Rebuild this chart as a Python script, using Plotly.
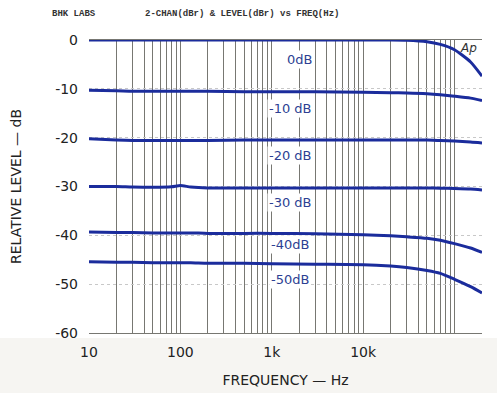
import math
import plotly.graph_objects as go

# Frequency points (Hz) and level traces (dB) for each input level
freq = [10, 20, 30, 50, 80, 100, 130, 200, 500, 1000, 3000, 10000, 20000,
        30000, 50000, 70000, 100000, 150000, 200000]

lvl_0 = [0.0, 0.0, 0.0, 0.0, 0.0, 0.0, 0.0, 0.0, 0.0, 0.0, 0.0, 0.0, 0.0,
         -0.05, -0.35, -0.9, -2.0, -4.5, -7.4]
lvl_10 = [-10.3, -10.4, -10.5, -10.5, -10.5, -10.5, -10.5, -10.5, -10.6, -10.6,
          -10.6, -10.7, -10.8, -10.85, -11.0, -11.2, -11.5, -11.9, -12.4]
lvl_20 = [-20.2, -20.5, -20.6, -20.6, -20.6, -20.6, -20.6, -20.6, -20.5, -20.5,
          -20.5, -20.5, -20.5, -20.5, -20.5, -20.6, -20.7, -20.9, -21.1]
lvl_30 = [-30.0, -30.0, -30.1, -30.15, -30.05, -29.8, -30.1, -30.3, -30.3, -30.3,
          -30.3, -30.3, -30.3, -30.3, -30.3, -30.35, -30.4, -30.5, -30.7]
lvl_40 = [-39.3, -39.4, -39.4, -39.5, -39.5, -39.5, -39.5, -39.6, -39.6, -39.6,
          -39.7, -39.9, -40.1, -40.3, -40.6, -41.0, -41.7, -42.6, -43.5]
lvl_50 = [-45.4, -45.5, -45.5, -45.6, -45.6, -45.6, -45.6, -45.7, -45.7, -45.8,
          -45.9, -46.0, -46.3, -46.6, -47.2, -47.8, -49.0, -50.5, -51.8]

series = [lvl_0, lvl_10, lvl_20, lvl_30, lvl_40, lvl_50]
curve_labels = ["0dB", "-10 dB", "-20 dB", "-30 dB", "-40dB", "-50dB"]
label_y = [-4.0, -14.0, -23.6, -33.2, -41.8, -49.0]
label_x = [2000, 1600, 1600, 1600, 1600, 1600]

x_tickvals = [10, 100, 1000, 10000, 200000]
x_ticktext = ["10", "100", "1k", "10k", "200k"]
y_tickvals = [0, -10, -20, -30, -40, -50, -60]
y_ticktext = ["0", "-10", "-20", "-30", "-40", "-50", "-60"]

LINE = "#1b2c9c"
GRID = "#777772"
INK = "#222222"

fig = go.Figure()
for vals in series:
    fig.add_trace(go.Scatter(x=freq, y=vals, mode="lines",
                             line=dict(color=LINE, width=3, shape="spline",
                                       smoothing=0.6),
                             showlegend=False, hoverinfo="skip"))

# Level labels sit on the log axis, so positions are given in log10 units
for txt, lx, ly in zip(curve_labels, label_x, label_y):
    fig.add_annotation(x=math.log10(lx), y=ly, xref="x", yref="y", text=txt,
                       showarrow=False, bgcolor="white",
                       font=dict(family="DejaVu Sans", size=13, color="#2d3f93"))

# Header lines
fig.add_annotation(x=-39 / 393, y=(333 - 14) / 293, xref="paper", yref="paper",
                   xanchor="left", yanchor="middle", showarrow=False,
                   text="<b>BHK LABS</b>",
                   font=dict(family="Liberation Mono", size=9, color="#333333"))
fig.add_annotation(x=54 / 393, y=(333 - 14) / 293, xref="paper", yref="paper",
                   xanchor="left", yanchor="middle", showarrow=False,
                   text="<b>2-CHAN(dBr) & LEVEL(dBr) vs FREQ(Hz)</b>",
                   font=dict(family="Liberation Mono", size=9, color="#333333"))
fig.add_annotation(x=math.log10(200000), y=-1.6, xref="x", yref="y",
                   xanchor="right", xshift=-3, showarrow=False, text="<i>Ap</i>",
                   font=dict(family="DejaVu Sans", size=12, color="#333333"))

# Lower strip of the page
fig.add_shape(type="rect", xref="paper", yref="paper",
              x0=-89 / 393, x1=408 / 393, y0=-60 / 293, y1=-5 / 293,
              fillcolor="#f6f5f2", line=dict(width=0), layer="below")

# Decade grid lines drawn explicitly so every decade is marked
for dec in [10, 100, 1000, 10000]:
    fig.add_shape(type="line", xref="x", yref="y",
                  x0=math.log10(dec), x1=math.log10(dec), y0=-60, y1=0,
                  line=dict(color=GRID, width=1), layer="between")

fig.update_layout(
    width=497, height=393,
    margin=dict(l=89, r=15, t=40, b=60),
    paper_bgcolor="white", plot_bgcolor="white",
    font=dict(family="DejaVu Sans", color=INK),
    xaxis=dict(type="log", range=[1, 5.30103], tickvals=x_tickvals,
               ticktext=x_ticktext, showgrid=True, gridcolor=GRID, gridwidth=1,
               minor=dict(dtick="D1", showgrid=True, gridcolor=GRID, gridwidth=1),
               ticks="", showline=True, linecolor=GRID, mirror=True,
               automargin=False,
               tickfont=dict(size=14), ticklabelstandoff=6,
               title=dict(text="FREQUENCY — Hz", font=dict(size=14), standoff=16)),
    yaxis=dict(range=[-60, 0], tickvals=y_tickvals, ticktext=y_ticktext,
               showgrid=True, gridcolor="#c8c8c8", griddash="dot", zeroline=False,
               ticks="", showline=False, tickfont=dict(size=14),
               ticklabelstandoff=10, automargin=False,
               title=dict(text="RELATIVE LEVEL — dB", font=dict(size=14),
                          standoff=30)),
)

fig.write_html("out.html")
